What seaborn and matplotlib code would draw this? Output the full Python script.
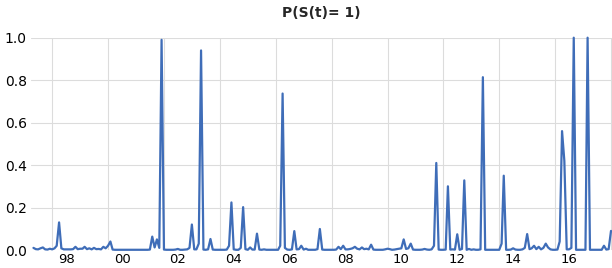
import pandas as pd
import seaborn as sns
import matplotlib.pyplot as plt
import matplotlib.dates as mdates

# monthly probabilities, Apr 1997 .. Dec 2017 (month-end)
p1997 = [0.010, 0.004, 0.003, 0.008, 0.012, 0.003, 0.002, 0.006, 0.003]
p1998 = [0.008, 0.020, 0.130, 0.008, 0.003, 0.003, 0.003, 0.003, 0.004, 0.015, 0.004, 0.006]
p1999 = [0.006, 0.015, 0.004, 0.008, 0.003, 0.010, 0.004, 0.005, 0.003, 0.015, 0.008, 0.020]
p2000 = [0.040, 0.002, 0.001, 0.001, 0.001, 0.001, 0.001, 0.001, 0.001, 0.001, 0.001, 0.001]
p2001 = [0.001, 0.001, 0.001, 0.001, 0.001, 0.002, 0.063, 0.012, 0.050, 0.010, 0.990, 0.002]
p2002 = [0.001, 0.001, 0.001, 0.001, 0.002, 0.005, 0.001, 0.001, 0.002, 0.003, 0.010, 0.120]
p2003 = [0.003, 0.003, 0.030, 0.940, 0.002, 0.001, 0.003, 0.052, 0.002, 0.001, 0.001, 0.001]
p2004 = [0.001, 0.001, 0.002, 0.020, 0.224, 0.003, 0.001, 0.001, 0.010, 0.202, 0.004, 0.001]
p2005 = [0.012, 0.002, 0.002, 0.077, 0.002, 0.001, 0.003, 0.001, 0.001, 0.001, 0.001, 0.001]
p2006 = [0.001, 0.020, 0.737, 0.010, 0.002, 0.001, 0.003, 0.089, 0.003, 0.004, 0.020, 0.002]
p2007 = [0.006, 0.001, 0.001, 0.001, 0.001, 0.004, 0.099, 0.002, 0.001, 0.001, 0.001, 0.001]
p2008 = [0.001, 0.002, 0.015, 0.004, 0.020, 0.003, 0.003, 0.005, 0.008, 0.015, 0.006, 0.003]
p2009 = [0.012, 0.004, 0.006, 0.003, 0.025, 0.002, 0.001, 0.001, 0.001, 0.001, 0.003, 0.006]
p2010 = [0.004, 0.001, 0.002, 0.004, 0.006, 0.008, 0.050, 0.005, 0.008, 0.030, 0.002, 0.001]
p2011 = [0.001, 0.001, 0.002, 0.005, 0.002, 0.001, 0.003, 0.020, 0.410, 0.002, 0.001, 0.001]
p2012 = [0.002, 0.300, 0.002, 0.003, 0.002, 0.074, 0.001, 0.005, 0.328, 0.001, 0.005, 0.001]
p2013 = [0.003, 0.001, 0.001, 0.003, 0.814, 0.001, 0.001, 0.001, 0.001, 0.001, 0.001, 0.001]
p2014 = [0.030, 0.350, 0.001, 0.001, 0.002, 0.008, 0.002, 0.001, 0.001, 0.003, 0.010, 0.075]
p2015 = [0.004, 0.008, 0.020, 0.004, 0.015, 0.003, 0.010, 0.030, 0.012, 0.003, 0.001, 0.001]
p2016 = [0.002, 0.040, 0.560, 0.420, 0.003, 0.003, 0.010, 1.000, 0.001, 0.001, 0.001, 0.001]
p2017 = [0.001, 1.000, 0.001, 0.001, 0.001, 0.001, 0.001, 0.001, 0.020, 0.002, 0.004, 0.090]

values = (p1997 + p1998 + p1999 + p2000 + p2001 + p2002 + p2003 + p2004 + p2005
          + p2006 + p2007 + p2008 + p2009 + p2010 + p2011 + p2012 + p2013
          + p2014 + p2015 + p2016 + p2017)
dates = pd.date_range("1997-04-30", "2017-12-31", freq="ME")
df = pd.DataFrame({"date": dates, "p": values})

sns.set_style("whitegrid")
plt.rcParams["font.family"] = ["DejaVu Sans"]

fig = plt.figure(figsize=(6.12, 2.68), dpi=100)
ax = fig.add_axes([31 / 612, 18 / 268, 1 - 31 / 612, (250 - 37.7) / 268])

sns.lineplot(data=df, x="date", y="p", ax=ax, color="#3F6DB8", linewidth=1.6, clip_on=False)

ax.set_ylim(0, 1.0)
ax.set_yticks([0.0, 0.2, 0.4, 0.6, 0.8, 1.0])
ax.set_yticklabels(["0.0", "0.2", "0.4", "0.6", "0.8", "1.0"])
ax.set_xlim(pd.Timestamp("1997-03-29"), pd.Timestamp("2018-01-13"))

# gridlines at start of even years, labels centred mid-year
ax.xaxis.set_major_locator(mdates.YearLocator(2))
ax.xaxis.set_major_formatter(plt.NullFormatter())
ax.xaxis.set_minor_locator(mdates.YearLocator(2, month=7, day=1))
ax.xaxis.set_minor_formatter(mdates.DateFormatter("%y"))

ax.grid(True, which="major", color="#DCDCDC", linewidth=0.8)
ax.tick_params(axis="both", which="both", length=0, labelsize=10, colors="black")
ax.tick_params(axis="x", which="minor", pad=2.5, labelsize=9.5)
ax.tick_params(axis="y", pad=3)
for s in ax.spines.values():
    s.set_visible(False)

ax.set_xlabel(None)
ax.set_ylabel(None)
ax.set_title("P(S(t)= 1)", fontsize=10, fontweight="bold", pad=15)

fig.savefig("out.png", dpi=100)
